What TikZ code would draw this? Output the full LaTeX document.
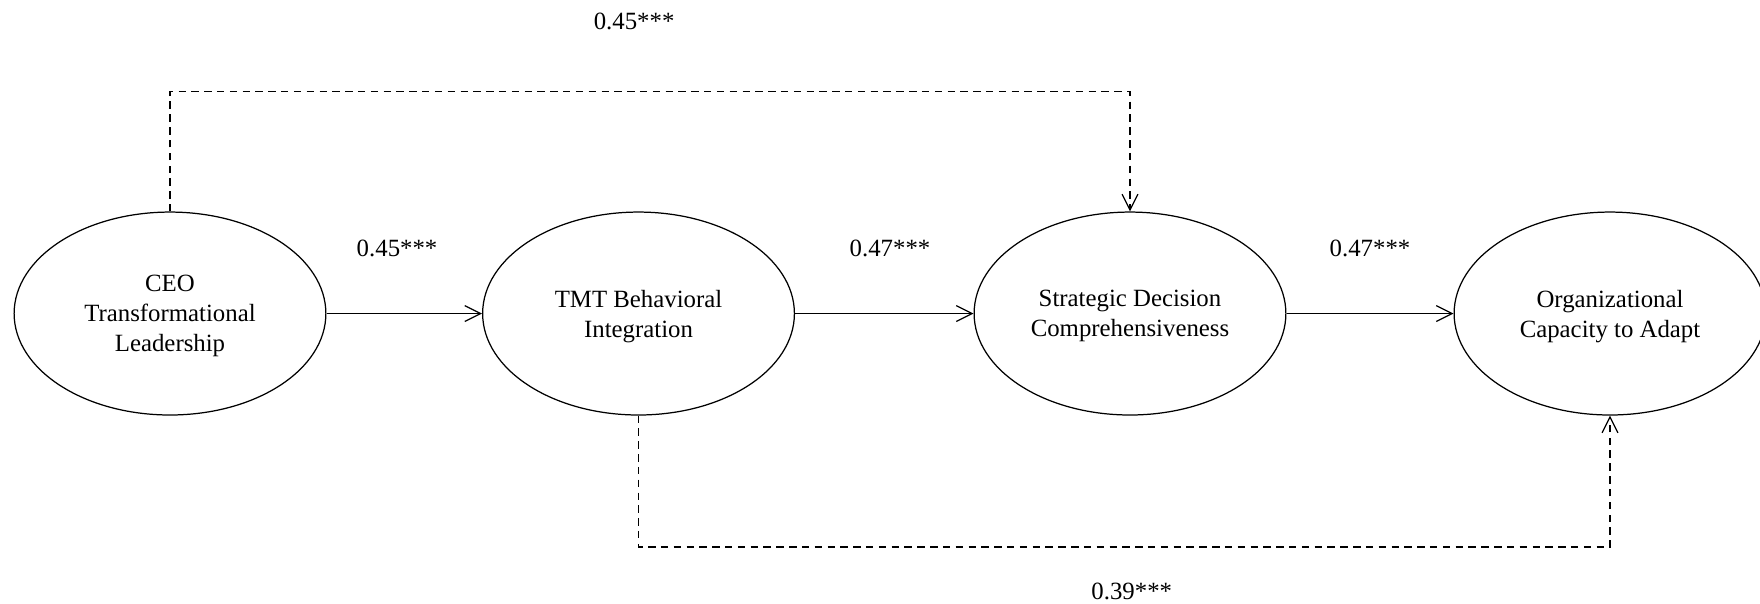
\documentclass[tikz,border=0pt]{standalone}
\usepackage{fontspec}
\setmainfont{Liberation Serif}
\usepackage{tikz}
\usetikzlibrary{arrows.meta, positioning, shapes.geometric}

\begin{document}
\begin{tikzpicture}[
      every node/.style={font=\fontsize{12}{14.4}\selectfont},
      latent/.style={ellipse, draw, line width=0.6pt, minimum width=5.3cm, minimum height=3.45cm, inner sep=0pt, align=center, text depth=-2pt},
      arrow/.style={-{Straight Barb[length=0.27cm, width=0.27cm]}, line width=0.6pt},
      dasharrow/.style={arrow, dash pattern=on 3.6pt off 2.6pt},
      coef/.style={draw=none, inner sep=1pt}
  ]
      \useasboundingbox (0,0) rectangle (29.92,-10.268);

      % Constructs
      \node[latent] (ceo) at (2.89,-5.33) {CEO\\Transformational\\Leadership};
      \node[latent] (tmt) at (10.855,-5.33) {TMT Behavioral\\Integration};
      \node[latent] (sdc) at (19.21,-5.33) {Strategic Decision\\Comprehensiveness};
      \node[latent] (oca) at (27.37,-5.33) {Organizational\\Capacity to Adapt};

      % Direct paths
      \draw[arrow] (ceo) -- (tmt);
      \draw[arrow] (tmt) -- (sdc);
      \draw[arrow] (sdc) -- (oca);
      \node[coef] (c1) at (6.75,-4.22) {0.45***};
      \node[coef] (c2) at (15.13,-4.22) {0.47***};
      \node[coef] (c3) at (23.29,-4.22) {0.47***};

      % Indirect paths
      \coordinate (toprail) at (0,-1.56);
      \coordinate (botrail) at (0,-9.30);
      \draw[dasharrow] (ceo.north) -- (ceo.north |- toprail) -| (sdc.north);
      \draw[dasharrow] (tmt.south) -- (tmt.south |- botrail) -| (oca.south);
      \node[coef] (c4) at (10.78,-0.36) {0.45***};
      \node[coef] (c5) at (19.24,-10.06) {0.39***};
  \end{tikzpicture}
\end{document}
